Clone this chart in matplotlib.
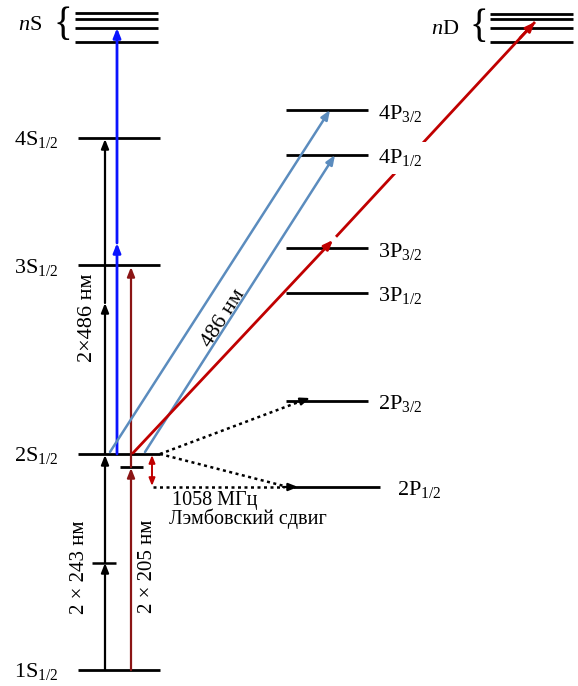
import matplotlib
matplotlib.use("Agg")
import matplotlib.pyplot as plt

plt.rcParams['font.family'] = ['Liberation Serif', 'DejaVu Serif']
plt.rcParams['mathtext.fontset'] = 'custom'
plt.rcParams['mathtext.rm'] = 'Liberation Serif'
plt.rcParams['mathtext.it'] = 'Liberation Serif:italic'

# Energy levels (diagram units, y grows downward)
s_names = ['1S', '2S', '3S', '4S']
s_y = [670, 454, 265, 138]
p_names = ['2P', '2P', '3P', '3P', '4P', '4P']
p_sub = ['1/2', '3/2', '1/2', '3/2', '1/2', '3/2']
p_y = [487, 401, 293, 248, 155, 110]
ns_y = [13, 19, 28, 42]
nd_y = [14, 19, 28, 42]
mid_level_y = 467          # intermediate level for 2 x 205 nm

labels_wavelength = ['2 × 243 нм', '2×486 нм', '2 × 205 нм', '486 нм']
lamb_text = ['1058 МГц', 'Лэмбовский сдвиг']

BLACK = '#000000'
BLUE = '#0a14ff'
STEEL = '#5b8cbe'
DARKRED = '#8b1515'
RED = '#c00000'

fig = plt.figure(figsize=(5.78, 6.86), dpi=100)
ax = fig.add_axes([0, 0, 1, 1])
ax.set_xlim(0, 578)
ax.set_ylim(686, 0)
ax.axis('off')

HEAD = '-|>,head_length=0.55,head_width=0.22'


def level(x0, x1, y, lw=2.0, color=BLACK):
    ax.plot([x0, x1], [y, y], color=color, lw=lw, solid_capstyle='butt', zorder=3)


def arrow(x0, y0, x1, y1, color, lw=1.6, z=4):
    ax.annotate('', xy=(x1, y1), xytext=(x0, y0),
                arrowprops=dict(arrowstyle=HEAD, color=color, lw=lw,
                                shrinkA=0, shrinkB=0),
                zorder=z)


def seg(x0, y0, x1, y1, color, lw=1.6, ls='-', z=4):
    ax.plot([x0, x1], [y0, y1], color=color, lw=lw, ls=ls, zorder=z,
            solid_capstyle='butt')


def sub_label(base, sub):
    return base + r'$_{\mathrm{' + sub + r'}}$'


# S levels
for name, y in zip(s_names, s_y):
    level(78, 160, y)
    ax.text(59, y + 2, sub_label(name, '1/2'), ha='right', va='center', fontsize=16)
level(120, 143, mid_level_y)

# nS manifold
for y in ns_y:
    level(75, 158, y)
ax.text(18, 26, r'$\mathit{n}$S', ha='left', va='center', fontsize=16)
ax.text(63, 26, '{', ha='center', va='center', fontsize=28)

# nD manifold
for y in nd_y:
    level(490, 573, y)
ax.text(431, 29, r'$\mathit{n}$D', ha='left', va='center', fontsize=16)
ax.text(479, 28, '{', ha='center', va='center', fontsize=28)

# P levels
for i, (name, sub, y) in enumerate(zip(p_names, p_sub, p_y)):
    x0, x1 = (293, 380) if i == 0 else (286, 368)
    level(x0, x1, y)
    lx = 397 if i == 0 else 378
    ax.text(lx, y + 3, sub_label(name, sub),
            ha='left', va='center', fontsize=16,
            bbox=dict(facecolor='white', edgecolor='none', pad=4), zorder=6)

# 2 x 243 nm: 1S -> 2S (black)
xb = 105
arrow(xb, s_y[0], xb, 563, BLACK)
seg(92, 563, 116, 563, BLACK, lw=1.8)
arrow(xb, 563, xb, s_y[1] + 1, BLACK)
# 2 x 486 nm: 2S -> 4S (black)
arrow(xb, s_y[1], xb, 303, BLACK)
arrow(xb, 303, xb, s_y[3] + 1, BLACK)
ax.text(88, 318, labels_wavelength[1], rotation=90, ha='center', va='center', fontsize=16)
ax.text(80, 567, labels_wavelength[0], rotation=90, ha='center', va='center', fontsize=15)

# Blue: 2S -> nS
xbl = 117
arrow(xbl, s_y[1], xbl, 243, BLUE, lw=2.0)
arrow(xbl, 243, xbl, ns_y[2], BLUE, lw=2.0)

# 2 x 205 nm (dark red): 1S -> intermediate -> 3S
xr = 131
arrow(xr, s_y[0], xr, mid_level_y + 1, DARKRED)
arrow(xr, mid_level_y, xr, s_y[2] + 2, DARKRED)
ax.text(147, 566, labels_wavelength[2], rotation=90, ha='center', va='center', fontsize=15)

# 486 nm: 2S -> 4P (steel blue)
arrow(110, 452, 330, p_y[5], STEEL, lw=1.8)
arrow(145, 452, 335, p_y[4], STEEL, lw=1.8)
ax.text(224, 318, labels_wavelength[3], rotation=57.5, ha='center', va='center', fontsize=16)

# 2S -> nD (red) with mid-way arrowhead
arrow(133, 453, 333, 240, RED, lw=2.0)
seg(336, 236.8, 535, 22, RED, lw=2.0)
arrow(520, 38, 535, 22, RED, lw=2.0)

# Lamb shift
ax.annotate('', xy=(152, s_y[1] + 1), xytext=(152, p_y[0] - 1),
            arrowprops=dict(arrowstyle='<|-|>,head_length=0.45,head_width=0.18',
                            color=RED, lw=1.4, shrinkA=0, shrinkB=0), zorder=4)
seg(160, s_y[1], 300, 401.5, BLACK, lw=1.8, ls=(0, (1.2, 1.4)))
arrow(300, 401.5, 310, 398, BLACK)
seg(160, s_y[1], 284, 486, BLACK, lw=1.8, ls=(0, (1.2, 1.4)))
seg(153, p_y[0], 284, p_y[0], BLACK, lw=1.8, ls=(0, (1.2, 1.4)))
arrow(283, p_y[0], 298, p_y[0], BLACK)
ax.text(172, 501, lamb_text[0], ha='left', va='center', fontsize=14.5)
ax.text(169, 519, lamb_text[1], ha='left', va='center', fontsize=14.5)

fig.savefig('out.png', dpi=100)
